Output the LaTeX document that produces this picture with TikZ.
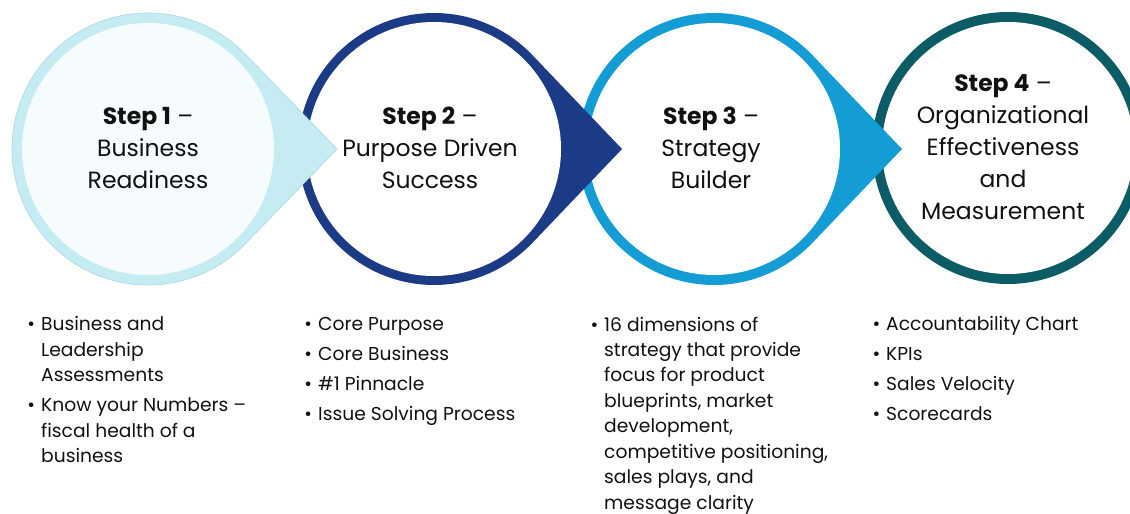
\documentclass[tikz,border=0pt]{standalone}
\usepackage{fontspec}
\setmainfont{Poppins}
\definecolor{cOne}{HTML}{C5EBF3}
\definecolor{cOneIn}{HTML}{F6FBFD}
\definecolor{cOneEdge}{HTML}{A9D8E2}
\definecolor{cTwo}{HTML}{1B3B86}
\definecolor{cThree}{HTML}{149CD4}
\definecolor{cFour}{HTML}{0C5C66}
\definecolor{textc}{HTML}{111111}
\begin{document}
\begin{tikzpicture}[x=1pt,y=1pt,
  head/.style={align=center,inner sep=0pt,text=textc,font=\fontsize{23.5}{32}\selectfont},
  blist/.style={align=left,anchor=base west,inner sep=0pt,text=textc,font=\fontsize{18.7}{25.5}\selectfont}]
\path[use as bounding box] (0,0) rectangle (1130,514);
\clip (0,0) rectangle (1130,514);
% Step 4 circle
\fill[cFour] (1008,366) circle[radius=136];
\fill[white] (1008,366) circle[radius=126];
% Step 3 teardrop
\fill[cThree] (714,365) ++(43.66:136) arc[start angle=43.66,end angle=316.34,radius=136] -- (902,365) -- cycle;
\fill[white] (714,365) circle[radius=126];
% Step 2 teardrop
\fill[cTwo] (434,365) ++(43.66:136) arc[start angle=43.66,end angle=316.34,radius=136] -- (622,365) -- cycle;
\fill[white] (434,365) circle[radius=127];
% Step 1 teardrop
\filldraw[fill=cOne,draw=cOneEdge,line width=0.6pt] (148,365) ++(43.66:136) arc[start angle=43.66,end angle=316.34,radius=136] -- (337,365) -- cycle;
\fill[cOneIn] (148,365) circle[radius=126];
% headings (anchor base = last line baseline)
\node[head,anchor=base] (h1) at (148,325) {\textbf{Step 1} –\\Business\\Readiness};
\node[head,anchor=base] (h2) at (430,325) {\textbf{Step 2} –\\Purpose Driven\\Success};
\node[head,anchor=base] (h3) at (711,325) {\textbf{Step 3} –\\Strategy\\Builder};
\node[head,anchor=base] (h4) at (1003,294) {\textbf{Step 4} –\\Organizational\\Effectiveness\\and\\Measurement};
% bullet lists
\node[blist] (l1) at (41,51) {\llap{•\hspace{6pt}}Business and\\Leadership\\Assessments\\[4.5pt]\llap{•\hspace{6pt}}Know your Numbers –\\fiscal health of a\\business};
\node[blist] (l2) at (318,93) {\llap{•\hspace{6pt}}Core Purpose\\[4.5pt]\llap{•\hspace{6pt}}Core Business\\[4.5pt]\llap{•\hspace{6pt}}\#1 Pinnacle\\[4.5pt]\llap{•\hspace{6pt}}Issue Solving Process};
\node[blist] (l3) at (604,4.5) {\llap{•\hspace{6pt}}16 dimensions of\\strategy that provide\\focus for product\\blueprints, market\\development,\\competitive positioning,\\sales plays, and\\message clarity};
\node[blist] (l4) at (886,93) {\llap{•\hspace{6pt}}Accountability Chart\\[4.5pt]\llap{•\hspace{6pt}}KPIs\\[4.5pt]\llap{•\hspace{6pt}}Sales Velocity\\[4.5pt]\llap{•\hspace{6pt}}Scorecards};
\end{tikzpicture}
\end{document}
